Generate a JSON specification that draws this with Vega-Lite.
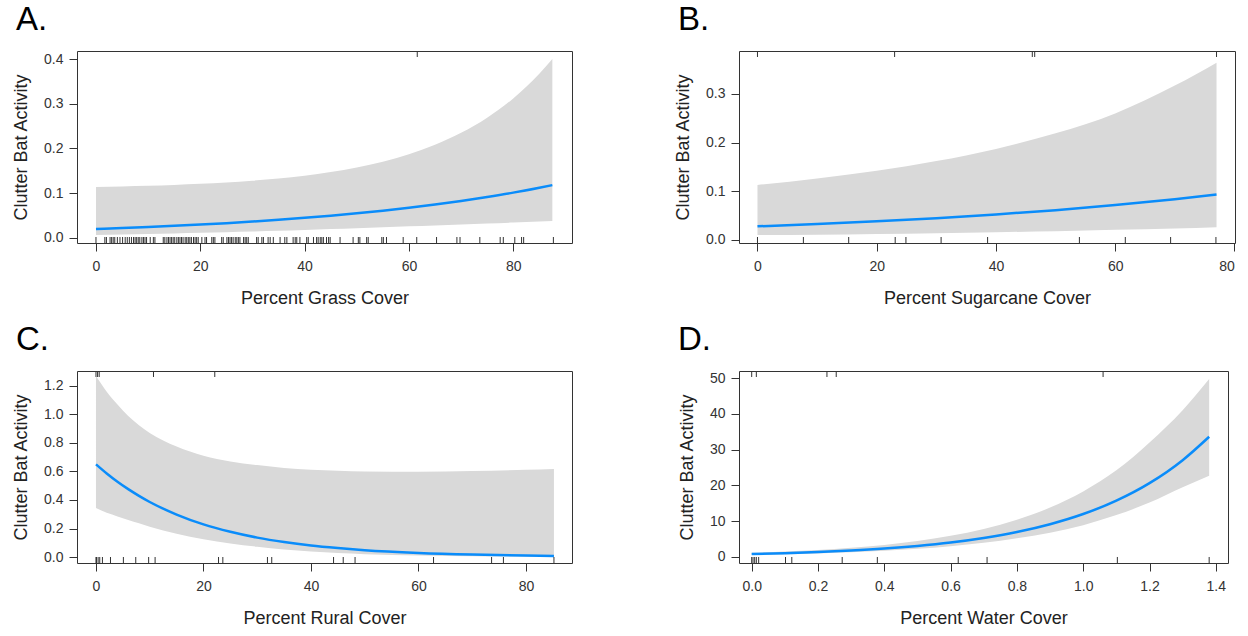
{
  "$schema": "https://vega.github.io/schema/vega-lite/v6.json",
  "background": "white",
  "padding": {"left": 12, "top": 3, "right": 0, "bottom": 0},
  "datasets": {
    "A": [
      {"x": 0, "fit": 0.0200, "lo": 0.0067, "hi": 0.1140},
      {"x": 5, "fit": 0.0221, "lo": 0.0078, "hi": 0.1152},
      {"x": 10, "fit": 0.0245, "lo": 0.0090, "hi": 0.1167},
      {"x": 15, "fit": 0.0271, "lo": 0.0102, "hi": 0.1186},
      {"x": 20, "fit": 0.0300, "lo": 0.0115, "hi": 0.1210},
      {"x": 25, "fit": 0.0332, "lo": 0.0130, "hi": 0.1240},
      {"x": 30, "fit": 0.0368, "lo": 0.0145, "hi": 0.1280},
      {"x": 35, "fit": 0.0407, "lo": 0.0162, "hi": 0.1330},
      {"x": 40, "fit": 0.0450, "lo": 0.0180, "hi": 0.1393},
      {"x": 45, "fit": 0.0499, "lo": 0.0200, "hi": 0.1475},
      {"x": 50, "fit": 0.0552, "lo": 0.0220, "hi": 0.1576},
      {"x": 55, "fit": 0.0611, "lo": 0.0240, "hi": 0.1705},
      {"x": 60, "fit": 0.0676, "lo": 0.0260, "hi": 0.1872},
      {"x": 65, "fit": 0.0748, "lo": 0.0280, "hi": 0.2082},
      {"x": 70, "fit": 0.0828, "lo": 0.0300, "hi": 0.2350},
      {"x": 75, "fit": 0.0917, "lo": 0.0322, "hi": 0.2690},
      {"x": 80, "fit": 0.1014, "lo": 0.0345, "hi": 0.3120},
      {"x": 85, "fit": 0.1123, "lo": 0.0370, "hi": 0.3670},
      {"x": 87.5, "fit": 0.1181, "lo": 0.0380, "hi": 0.4000}
    ],
    "A_rug": [
      {"x": 0, "side": "bottom"}, {"x": 1.7, "side": "bottom"}, {"x": 2.0, "side": "bottom"}, {"x": 2.7, "side": "bottom"},
      {"x": 3.0, "side": "bottom"}, {"x": 3.3, "side": "bottom"}, {"x": 3.6, "side": "bottom"}, {"x": 4.1, "side": "bottom"},
      {"x": 4.6, "side": "bottom"}, {"x": 5.1, "side": "bottom"}, {"x": 5.6, "side": "bottom"}, {"x": 6.0, "side": "bottom"},
      {"x": 6.4, "side": "bottom"}, {"x": 6.8, "side": "bottom"}, {"x": 7.2, "side": "bottom"}, {"x": 7.5, "side": "bottom"},
      {"x": 7.8, "side": "bottom"}, {"x": 8.1, "side": "bottom"}, {"x": 8.4, "side": "bottom"}, {"x": 8.8, "side": "bottom"},
      {"x": 9.1, "side": "bottom"}, {"x": 9.4, "side": "bottom"}, {"x": 9.7, "side": "bottom"}, {"x": 10.4, "side": "bottom"},
      {"x": 11.0, "side": "bottom"}, {"x": 11.3, "side": "bottom"}, {"x": 12.9, "side": "bottom"}, {"x": 13.2, "side": "bottom"},
      {"x": 13.6, "side": "bottom"}, {"x": 13.9, "side": "bottom"}, {"x": 14.2, "side": "bottom"}, {"x": 14.5, "side": "bottom"},
      {"x": 14.8, "side": "bottom"}, {"x": 15.1, "side": "bottom"}, {"x": 15.5, "side": "bottom"}, {"x": 15.8, "side": "bottom"},
      {"x": 16.1, "side": "bottom"}, {"x": 16.4, "side": "bottom"}, {"x": 16.7, "side": "bottom"}, {"x": 17.1, "side": "bottom"},
      {"x": 17.4, "side": "bottom"}, {"x": 17.7, "side": "bottom"}, {"x": 18.0, "side": "bottom"}, {"x": 18.3, "side": "bottom"},
      {"x": 18.7, "side": "bottom"}, {"x": 19.0, "side": "bottom"}, {"x": 19.3, "side": "bottom"}, {"x": 19.6, "side": "bottom"},
      {"x": 20.3, "side": "bottom"}, {"x": 20.9, "side": "bottom"}, {"x": 21.2, "side": "bottom"}, {"x": 22.2, "side": "bottom"},
      {"x": 22.5, "side": "bottom"}, {"x": 22.8, "side": "bottom"}, {"x": 24.1, "side": "bottom"}, {"x": 24.4, "side": "bottom"},
      {"x": 25.1, "side": "bottom"}, {"x": 25.4, "side": "bottom"}, {"x": 25.7, "side": "bottom"}, {"x": 26.0, "side": "bottom"},
      {"x": 26.3, "side": "bottom"}, {"x": 26.7, "side": "bottom"}, {"x": 27.0, "side": "bottom"}, {"x": 27.3, "side": "bottom"},
      {"x": 27.6, "side": "bottom"}, {"x": 28.3, "side": "bottom"}, {"x": 28.6, "side": "bottom"}, {"x": 28.9, "side": "bottom"},
      {"x": 29.2, "side": "bottom"}, {"x": 30.8, "side": "bottom"}, {"x": 31.1, "side": "bottom"}, {"x": 31.8, "side": "bottom"},
      {"x": 32.1, "side": "bottom"}, {"x": 33.0, "side": "bottom"}, {"x": 33.4, "side": "bottom"}, {"x": 34.0, "side": "bottom"},
      {"x": 35.3, "side": "bottom"}, {"x": 36.2, "side": "bottom"}, {"x": 36.6, "side": "bottom"}, {"x": 37.8, "side": "bottom"},
      {"x": 38.2, "side": "bottom"}, {"x": 38.5, "side": "bottom"}, {"x": 39.1, "side": "bottom"}, {"x": 40.4, "side": "bottom"},
      {"x": 40.7, "side": "bottom"}, {"x": 41.7, "side": "bottom"}, {"x": 42.3, "side": "bottom"}, {"x": 42.6, "side": "bottom"},
      {"x": 43.0, "side": "bottom"}, {"x": 43.3, "side": "bottom"}, {"x": 43.6, "side": "bottom"}, {"x": 44.2, "side": "bottom"},
      {"x": 44.6, "side": "bottom"}, {"x": 44.9, "side": "bottom"}, {"x": 46.8, "side": "bottom"}, {"x": 49.3, "side": "bottom"},
      {"x": 50.3, "side": "bottom"}, {"x": 50.6, "side": "bottom"}, {"x": 51.9, "side": "bottom"}, {"x": 52.2, "side": "bottom"},
      {"x": 54.8, "side": "bottom"}, {"x": 55.1, "side": "bottom"}, {"x": 55.7, "side": "bottom"}, {"x": 58.9, "side": "bottom"},
      {"x": 61.5, "side": "bottom"}, {"x": 65.3, "side": "bottom"}, {"x": 69.2, "side": "bottom"}, {"x": 69.8, "side": "bottom"},
      {"x": 73.6, "side": "bottom"}, {"x": 77.5, "side": "bottom"}, {"x": 78.1, "side": "bottom"}, {"x": 80.3, "side": "bottom"},
      {"x": 81.6, "side": "bottom"}, {"x": 82.0, "side": "bottom"}, {"x": 87.7, "side": "bottom"},
      {"x": 61.6, "side": "top"}
    ],
    "B": [
      {"x": 0, "fit": 0.0280, "lo": 0.0100, "hi": 0.113},
      {"x": 10, "fit": 0.0328, "lo": 0.0110, "hi": 0.1265},
      {"x": 20, "fit": 0.0383, "lo": 0.0125, "hi": 0.142},
      {"x": 30, "fit": 0.0448, "lo": 0.0140, "hi": 0.162},
      {"x": 40, "fit": 0.0524, "lo": 0.0160, "hi": 0.187},
      {"x": 50, "fit": 0.0613, "lo": 0.0180, "hi": 0.219},
      {"x": 60, "fit": 0.0717, "lo": 0.0210, "hi": 0.260},
      {"x": 70, "fit": 0.0838, "lo": 0.0235, "hi": 0.317},
      {"x": 77, "fit": 0.0935, "lo": 0.0260, "hi": 0.364}
    ],
    "B_rug": [
      {"x": 0, "side": "bottom"}, {"x": 7.7, "side": "bottom"}, {"x": 15.3, "side": "bottom"}, {"x": 23.1, "side": "bottom"},
      {"x": 24.9, "side": "bottom"}, {"x": 30.8, "side": "bottom"}, {"x": 38.6, "side": "bottom"}, {"x": 54.0, "side": "bottom"},
      {"x": 61.7, "side": "bottom"}, {"x": 69.3, "side": "bottom"}, {"x": 76.9, "side": "bottom"},
      {"x": 0, "side": "top"}, {"x": 23.0, "side": "top"}, {"x": 46.1, "side": "top"}, {"x": 46.5, "side": "top"}, {"x": 77.0, "side": "top"}
    ],
    "C": [
      {"x": 0, "fit": 0.650, "lo": 0.344, "hi": 1.27},
      {"x": 2, "fit": 0.586, "lo": 0.310, "hi": 1.16},
      {"x": 4, "fit": 0.528, "lo": 0.285, "hi": 1.07},
      {"x": 6, "fit": 0.476, "lo": 0.260, "hi": 0.99},
      {"x": 8, "fit": 0.429, "lo": 0.236, "hi": 0.925},
      {"x": 10, "fit": 0.386, "lo": 0.212, "hi": 0.87},
      {"x": 15, "fit": 0.298, "lo": 0.163, "hi": 0.775},
      {"x": 20, "fit": 0.229, "lo": 0.125, "hi": 0.71},
      {"x": 25, "fit": 0.177, "lo": 0.095, "hi": 0.67},
      {"x": 30, "fit": 0.136, "lo": 0.072, "hi": 0.645},
      {"x": 35, "fit": 0.105, "lo": 0.053, "hi": 0.625},
      {"x": 40, "fit": 0.081, "lo": 0.039, "hi": 0.612},
      {"x": 45, "fit": 0.063, "lo": 0.028, "hi": 0.605},
      {"x": 50, "fit": 0.048, "lo": 0.020, "hi": 0.600},
      {"x": 60, "fit": 0.0286, "lo": 0.010, "hi": 0.598},
      {"x": 70, "fit": 0.0170, "lo": 0.005, "hi": 0.603},
      {"x": 80, "fit": 0.0101, "lo": 0.002, "hi": 0.612},
      {"x": 85.2, "fit": 0.0077, "lo": 0.001, "hi": 0.618}
    ],
    "C_rug": [
      {"x": 0, "side": "bottom"}, {"x": 0.1, "side": "bottom"}, {"x": 0.4, "side": "bottom"}, {"x": 0.7, "side": "bottom"},
      {"x": 1.2, "side": "bottom"}, {"x": 2.7, "side": "bottom"}, {"x": 5.1, "side": "bottom"}, {"x": 7.4, "side": "bottom"},
      {"x": 9.8, "side": "bottom"}, {"x": 11.0, "side": "bottom"}, {"x": 22.8, "side": "bottom"}, {"x": 23.6, "side": "bottom"},
      {"x": 31.9, "side": "bottom"}, {"x": 32.7, "side": "bottom"}, {"x": 44.2, "side": "bottom"}, {"x": 46.0, "side": "bottom"},
      {"x": 48.2, "side": "bottom"}, {"x": 62.8, "side": "bottom"}, {"x": 73.6, "side": "bottom"}, {"x": 75.8, "side": "bottom"},
      {"x": 85.2, "side": "bottom"},
      {"x": 0, "side": "top"}, {"x": 0.3, "side": "top"}, {"x": 0.6, "side": "top"}, {"x": 10.7, "side": "top"}, {"x": 22.1, "side": "top"}
    ],
    "D": [
      {"x": 0, "fit": 0.80, "lo": 0.55, "hi": 1.15},
      {"x": 0.1, "fit": 1.05, "lo": 0.74, "hi": 1.5},
      {"x": 0.2, "fit": 1.375, "lo": 0.98, "hi": 1.95},
      {"x": 0.3, "fit": 1.80, "lo": 1.3, "hi": 2.55},
      {"x": 0.4, "fit": 2.36, "lo": 1.72, "hi": 3.35},
      {"x": 0.5, "fit": 3.10, "lo": 2.28, "hi": 4.45},
      {"x": 0.6, "fit": 4.06, "lo": 3.0, "hi": 5.9},
      {"x": 0.7, "fit": 5.33, "lo": 3.95, "hi": 7.8},
      {"x": 0.8, "fit": 6.98, "lo": 5.2, "hi": 10.4},
      {"x": 0.9, "fit": 9.16, "lo": 6.8, "hi": 13.8},
      {"x": 1.0, "fit": 12.00, "lo": 8.9, "hi": 18.3},
      {"x": 1.1, "fit": 15.74, "lo": 11.7, "hi": 24.2},
      {"x": 1.2, "fit": 20.63, "lo": 15.2, "hi": 32.0},
      {"x": 1.3, "fit": 27.05, "lo": 19.5, "hi": 41.0},
      {"x": 1.38, "fit": 33.6, "lo": 22.7, "hi": 49.7}
    ],
    "D_rug": [
      {"x": 0, "side": "bottom"}, {"x": 0.004, "side": "bottom"}, {"x": 0.009, "side": "bottom"}, {"x": 0.014, "side": "bottom"},
      {"x": 0.021, "side": "bottom"}, {"x": 0.102, "side": "bottom"}, {"x": 0.121, "side": "bottom"}, {"x": 0.273, "side": "bottom"},
      {"x": 0.379, "side": "bottom"}, {"x": 0.623, "side": "bottom"}, {"x": 0.710, "side": "bottom"}, {"x": 1.103, "side": "bottom"},
      {"x": 1.380, "side": "bottom"},
      {"x": 0, "side": "top"}, {"x": 0.014, "side": "top"}, {"x": 0.227, "side": "top"}, {"x": 0.255, "side": "top"}, {"x": 1.06, "side": "top"}
    ]
  },
  "columns": 2,
  "spacing": {"row": 128, "column": 167},
  "bounds": "flush",
  "concat": [
    {
      "width": 495, "height": 192,
      "title": {"text": "A."},
      "layer": [
        {"data": {"name": "A"}, "mark": {"type": "area", "color": "#D9D9D9", "interpolate": "monotone"},
         "encoding": {
           "x": {"field": "x", "type": "quantitative", "scale": {"domain": [-3.64, 91.27], "nice": false, "zero": false}, "axis": {"values": [0, 20, 40, 60, 80], "tickCount": 20, "labelOverlap": false, "title": "Percent Grass Cover"}},
           "y": {"field": "lo", "type": "quantitative", "scale": {"domain": [-0.0112, 0.4179], "nice": false, "zero": false}, "axis": {"values": [0, 0.1, 0.2, 0.3, 0.4], "tickCount": 20, "labelOverlap": false, "format": ".1f", "title": "Clutter Bat Activity"}},
           "y2": {"field": "hi"}}},
        {"data": {"name": "A"}, "mark": {"type": "line", "color": "#0A8CFA", "strokeWidth": 2.5, "interpolate": "monotone"},
         "encoding": {"x": {"field": "x", "type": "quantitative"}, "y": {"field": "fit", "type": "quantitative"}}},
        {"data": {"name": "A_rug"}, "transform": [{"filter": "datum.side === 'bottom'"}], "mark": {"type": "rule", "color": "#333333", "strokeWidth": 1},
         "encoding": {"x": {"field": "x", "type": "quantitative"}, "y": {"datum": -0.0112}, "y2": {"datum": 0.0022}}},
        {"data": {"name": "A_rug"}, "transform": [{"filter": "datum.side === 'top'"}], "mark": {"type": "rule", "color": "#333333", "strokeWidth": 1},
         "encoding": {"x": {"field": "x", "type": "quantitative"}, "y": {"datum": 0.4179}, "y2": {"datum": 0.4045}}}
      ]
    },
    {
      "width": 496, "height": 192,
      "title": {"text": "B."},
      "layer": [
        {"data": {"name": "B"}, "mark": {"type": "area", "color": "#D9D9D9", "interpolate": "monotone"},
         "encoding": {
           "x": {"field": "x", "type": "quantitative", "scale": {"domain": [-3.1, 80.1], "nice": false, "zero": false}, "axis": {"values": [0, 20, 40, 60, 80], "tickCount": 20, "labelOverlap": false, "title": "Percent Sugarcane Cover"}},
           "y": {"field": "lo", "type": "quantitative", "scale": {"domain": [-0.0062, 0.3881], "nice": false, "zero": false}, "axis": {"values": [0, 0.1, 0.2, 0.3], "tickCount": 20, "labelOverlap": false, "format": ".1f", "title": "Clutter Bat Activity"}},
           "y2": {"field": "hi"}}},
        {"data": {"name": "B"}, "mark": {"type": "line", "color": "#0A8CFA", "strokeWidth": 2.5, "interpolate": "monotone"},
         "encoding": {"x": {"field": "x", "type": "quantitative"}, "y": {"field": "fit", "type": "quantitative"}}},
        {"data": {"name": "B_rug"}, "transform": [{"filter": "datum.side === 'bottom'"}], "mark": {"type": "rule", "color": "#333333", "strokeWidth": 1},
         "encoding": {"x": {"field": "x", "type": "quantitative"}, "y": {"datum": -0.0062}, "y2": {"datum": 0.0061}}},
        {"data": {"name": "B_rug"}, "transform": [{"filter": "datum.side === 'top'"}], "mark": {"type": "rule", "color": "#333333", "strokeWidth": 1},
         "encoding": {"x": {"field": "x", "type": "quantitative"}, "y": {"datum": 0.3881}, "y2": {"datum": 0.3758}}}
      ]
    },
    {
      "width": 495, "height": 192,
      "title": {"text": "C."},
      "layer": [
        {"data": {"name": "C"}, "mark": {"type": "area", "color": "#D9D9D9", "interpolate": "monotone"},
         "encoding": {
           "x": {"field": "x", "type": "quantitative", "scale": {"domain": [-3.53, 88.56], "nice": false, "zero": false}, "axis": {"values": [0, 20, 40, 60, 80], "tickCount": 20, "labelOverlap": false, "title": "Percent Rural Cover"}},
           "y": {"field": "lo", "type": "quantitative", "scale": {"domain": [-0.042, 1.305], "nice": false, "zero": false}, "axis": {"values": [0, 0.2, 0.4, 0.6, 0.8, 1.0, 1.2], "tickCount": 20, "labelOverlap": false, "format": ".1f", "title": "Clutter Bat Activity"}},
           "y2": {"field": "hi"}}},
        {"data": {"name": "C"}, "mark": {"type": "line", "color": "#0A8CFA", "strokeWidth": 2.5, "interpolate": "monotone"},
         "encoding": {"x": {"field": "x", "type": "quantitative"}, "y": {"field": "fit", "type": "quantitative"}}},
        {"data": {"name": "C_rug"}, "transform": [{"filter": "datum.side === 'bottom'"}], "mark": {"type": "rule", "color": "#333333", "strokeWidth": 1},
         "encoding": {"x": {"field": "x", "type": "quantitative"}, "y": {"datum": -0.042}, "y2": {"datum": 0.0}}},
        {"data": {"name": "C_rug"}, "transform": [{"filter": "datum.side === 'top'"}], "mark": {"type": "rule", "color": "#333333", "strokeWidth": 1},
         "encoding": {"x": {"field": "x", "type": "quantitative"}, "y": {"datum": 1.305}, "y2": {"datum": 1.263}}}
      ]
    },
    {
      "width": 489, "height": 192,
      "title": {"text": "D."},
      "layer": [
        {"data": {"name": "D"}, "mark": {"type": "area", "color": "#D9D9D9", "interpolate": "monotone"},
         "encoding": {
           "x": {"field": "x", "type": "quantitative", "scale": {"domain": [-0.0383, 1.4368], "nice": false, "zero": false}, "axis": {"values": [0, 0.2, 0.4, 0.6, 0.8, 1.0, 1.2, 1.4], "tickCount": 20, "labelOverlap": false, "format": ".1f", "title": "Percent Water Cover"}},
           "y": {"field": "lo", "type": "quantitative", "scale": {"domain": [-1.68, 51.96], "nice": false, "zero": false}, "axis": {"values": [0, 10, 20, 30, 40, 50], "tickCount": 20, "labelOverlap": false, "format": "d", "title": "Clutter Bat Activity"}},
           "y2": {"field": "hi"}}},
        {"data": {"name": "D"}, "mark": {"type": "line", "color": "#0A8CFA", "strokeWidth": 2.5, "interpolate": "monotone"},
         "encoding": {"x": {"field": "x", "type": "quantitative"}, "y": {"field": "fit", "type": "quantitative"}}},
        {"data": {"name": "D_rug"}, "transform": [{"filter": "datum.side === 'bottom'"}], "mark": {"type": "rule", "color": "#333333", "strokeWidth": 1},
         "encoding": {"x": {"field": "x", "type": "quantitative"}, "y": {"datum": -1.68}, "y2": {"datum": 0.0}}},
        {"data": {"name": "D_rug"}, "transform": [{"filter": "datum.side === 'top'"}], "mark": {"type": "rule", "color": "#333333", "strokeWidth": 1},
         "encoding": {"x": {"field": "x", "type": "quantitative"}, "y": {"datum": 51.96}, "y2": {"datum": 50.28}}}
      ]
    }
  ],
  "config": {
    "font": "Liberation Sans",
    "view": {"stroke": "#333333", "strokeWidth": 1},
    "axis": {
      "domain": false, "grid": false, "tickColor": "#333333", "tickSize": 8, "tickWidth": 1,
      "labelColor": "#333333", "labelFontSize": 14, "labelFont": "Liberation Sans", "labelOverlap": false,
      "titleFontSize": 18, "titleFontWeight": "normal", "titleColor": "#222222", "titleFont": "Liberation Sans"
    },
    "axisY": {"labelPadding": 6, "titlePadding": 13},
    "axisX": {"labelPadding": 8, "titlePadding": 16},
    "title": {"fontSize": 33, "fontWeight": "normal", "anchor": "start", "frame": "group", "color": "#000000", "offset": 14, "dx": -61, "font": "Liberation Sans"}
  }
}
